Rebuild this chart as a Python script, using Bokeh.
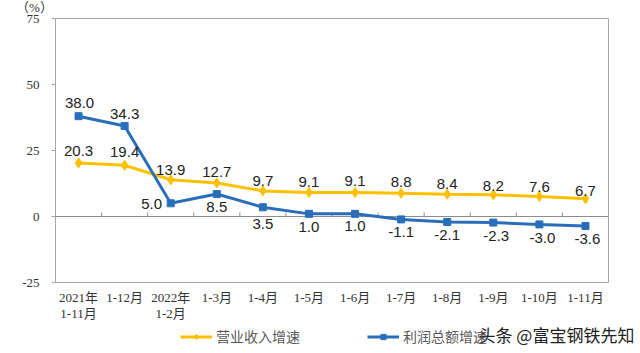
from bokeh.plotting import figure
from bokeh.models import ColumnDataSource, Range1d, Label, Legend, LegendItem
from bokeh.core.properties import value
from bokeh.embed import file_html
from bokeh.resources import INLINE
import numpy as np

# ---- data ----
categories = ["2021年\n1-11月", "1-12月", "2022年\n1-2月", "1-3月", "1-4月", "1-5月",
              "1-6月", "1-7月", "1-8月", "1-9月", "1-10月", "1-11月"]
revenue_growth = [20.3, 19.4, 13.9, 12.7, 9.7, 9.1, 9.1, 8.8, 8.4, 8.2, 7.6, 6.7]
profit_growth = [38.0, 34.3, 5.0, 8.5, 3.5, 1.0, 1.0, -1.1, -2.1, -2.3, -3.0, -3.6]
y_ticks = [-25, 0, 25, 50, 75]
series_names = ["营业收入增速", "利润总额增速"]
unit_text = "（%）"
watermark = "头条 @富宝钢铁先知"

# ---- styles ----
W, H = 640, 353
BOX_L, BOX_R, BOX_T, BOX_B = 55, 608, 18, 282   # plot-area box in pixels
rev_dx = [0] * 12
rev_dy = [-12, -13, -10, -11, -10, -10, -11, -11, -10, -9, -9, -8]
prof_dx = [1, 0, -19, 0, 0, 0, 0, 0, 0, 3, 3, 2]
prof_dy = [-13, -12, 1, 13, 17, 13, 12, 13, 13, 13, 14, 13]

YELLOW = "#FFC000"
BLUE = "#2A6EBB"
GRID = "#A6A6A6"
LABEL_FONT = "Liberation Sans"
SERIF_MIX = "Liberation Serif, Noto Sans CJK SC"

n = len(categories)
x = np.arange(n)
ymin, ymax = min(y_ticks), max(y_ticks)
x0, x1 = -0.5, n - 0.5

# data ranges extended so the plot-area box sits at BOX_* and the frame fills the canvas
sx = (BOX_R - BOX_L) / (x1 - x0)
sy = (BOX_B - BOX_T) / (ymax - ymin)
xr = Range1d(x0 - BOX_L / sx, x1 + (W - BOX_R) / sx)
yr = Range1d(ymin - (H - BOX_B) / sy, ymax + BOX_T / sy)

p = figure(width=W, height=H, output_backend="svg", toolbar_location=None,
           x_range=xr, y_range=yr, x_axis_location=None, y_axis_location=None,
           min_border=0)
p.xgrid.visible = False
p.ygrid.visible = False
p.outline_line_color = None
p.background_fill_color = "white"
p.border_fill_color = "white"

# plot-area box
p.quad(left=[x0], right=[x1], bottom=[ymin], top=[ymax], fill_color=None,
       line_color=GRID, line_width=1)

# y ticks and labels
tick_len = 4 / sx
p.segment(x0=[x0] * len(y_ticks), y0=y_ticks, x1=[x0 - tick_len] * len(y_ticks), y1=y_ticks,
          line_color=GRID, line_width=1)
p.text(x=[x0] * len(y_ticks), y=y_ticks, text=[str(t) for t in y_ticks], x_offset=-16,
       text_font=value(SERIF_MIX), text_font_size="13px", text_color="#333333",
       text_align="right", text_baseline="middle")

# zero line with category boundary ticks
p.segment(x0=[x0], y0=[0], x1=[x1], y1=[0], line_color="#8C8C8C", line_width=1)
bounds = x[:-1] + 0.5
p.segment(x0=bounds, y0=[0] * len(bounds), x1=bounds, y1=[4 / sy] * len(bounds),
          line_color="#8C8C8C", line_width=1)

# category labels
p.text(x=x, y=[ymin] * n, text=categories, y_offset=7,
       text_font=value(SERIF_MIX), text_font_size="13px", text_color="#333333",
       text_align="center", text_baseline="top", text_line_height=1.1)

# series
r_rev_line = p.line(x, revenue_growth, line_color=YELLOW, line_width=3)
r_rev_pts = p.scatter(x, revenue_growth, marker="diamond", size=10,
                      fill_color=YELLOW, line_color=YELLOW)
r_prof_line = p.line(x, profit_growth, line_color=BLUE, line_width=3)
r_prof_pts = p.scatter(x, profit_growth, marker="square", size=7,
                       fill_color=BLUE, line_color=BLUE)

rev_src = ColumnDataSource(dict(x=x, y=revenue_growth,
                                t=[f"{v:.1f}" for v in revenue_growth],
                                dx=rev_dx, dy=rev_dy))
prof_src = ColumnDataSource(dict(x=x, y=profit_growth,
                                 t=[f"{v:.1f}" for v in profit_growth],
                                 dx=prof_dx, dy=prof_dy))
for src in (rev_src, prof_src):
    p.text(x="x", y="y", text="t", x_offset="dx", y_offset="dy", source=src,
           text_font=value(LABEL_FONT), text_font_size="15px", text_color="#222222",
           text_align="center", text_baseline="middle")

# legend
legend = Legend(items=[LegendItem(label=series_names[0], renderers=[r_rev_line, r_rev_pts]),
                       LegendItem(label=series_names[1], renderers=[r_prof_line, r_prof_pts])],
                orientation="horizontal", location=(180, 7), margin=0, padding=0,
                spacing=67, glyph_width=32, glyph_height=13, label_height=20,
                label_standoff=4,
                label_text_font="Noto Sans CJK SC", label_text_font_size="14px",
                label_text_color="#595959", border_line_color=None,
                background_fill_alpha=0)
p.add_layout(legend, "center")

# unit label
p.add_layout(Label(x=34, y=H - 7, x_units="screen", y_units="screen", text=unit_text,
                   text_font="Liberation Serif, Noto Sans CJK SC",
                   text_font_size="13px", text_color="#333333",
                   text_align="center", text_baseline="middle"))

# watermark
p.add_layout(Label(x=556, y=H - 334, x_units="screen", y_units="screen", text=watermark,
                   text_font="Noto Sans CJK SC",
                   text_font_size="17px", text_color="#222222",
                   text_align="center", text_baseline="middle"))

open("out.html", "w").write(file_html(p, INLINE))
